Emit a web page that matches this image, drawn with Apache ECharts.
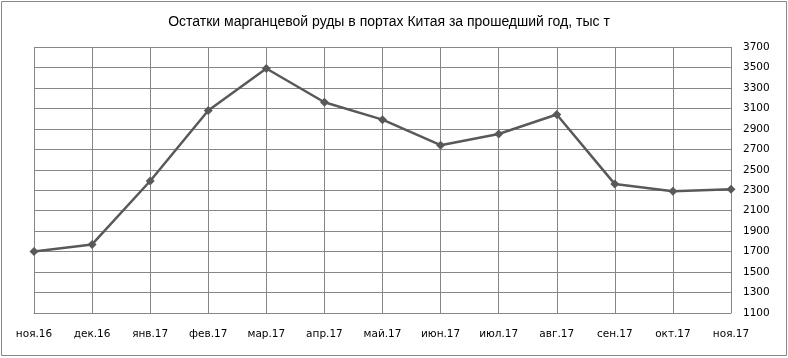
<!DOCTYPE html>
<html>
<head>
<meta charset="utf-8">
<script src="https://cdn.jsdelivr.net/npm/echarts@6/dist/echarts.min.js"></script>
<style>html,body{margin:0;padding:0;background:#fff}#c{width:788px;height:358px}</style>
</head>
<body>
<div id="c"></div>
<script>
const titleText = 'Остатки марганцевой руды в портах Китая за прошедший год, тыс т';
const categories = ['ноя.16','дек.16','янв.17','фев.17','мар.17','апр.17','май.17','июн.17','июл.17','авг.17','сен.17','окт.17','ноя.17'];
const stocks = [1700, 1770, 2390, 3080, 3490, 3160, 2990, 2740, 2850, 3040, 2360, 2290, 2310];
const yMin = 1100, yMax = 3700, yStep = 200;

const chart = echarts.init(document.getElementById('c'), null, {renderer: 'canvas'});
chart.setOption({
  animation: false,
  backgroundColor: '#fff',
  title: {
    text: titleText, left: 384, top: 10, textAlign: 'center',
    textStyle: {fontFamily: 'Liberation Sans', fontSize: 14, fontWeight: 'normal', color: '#000'}
  },
  graphic: [{
    type: 'rect', shape: {x: 1.5, y: 1.5, width: 785, height: 354},
    style: {fill: null, stroke: '#888', lineWidth: 1}, silent: true, z: -1
  }],
  grid: {left: 34, right: 57, top: 47, bottom: 45, containLabel: false},
  xAxis: {
    type: 'category', data: categories, boundaryGap: false,
    axisLine: {show: true, lineStyle: {color: '#868686', width: 1}},
    axisTick: {show: false},
    axisLabel: {margin: 16, color: '#000', fontFamily: 'DejaVu Sans', fontSize: 10.5, interval: 0},
    splitLine: {show: true, lineStyle: {color: '#868686', width: 1}}
  },
  yAxis: {
    type: 'value', position: 'right', min: yMin, max: yMax, interval: yStep,
    axisLine: {show: false}, axisTick: {show: false},
    axisLabel: {margin: 12, color: '#000', fontFamily: 'DejaVu Sans', fontSize: 10.5,
      formatter: function (v) { return String(v); }},
    splitLine: {show: true, lineStyle: {color: '#868686', width: 1}}
  },
  series: [{
    type: 'line', data: stocks,
    symbol: 'diamond', symbolSize: 9,
    lineStyle: {color: '#595959', width: 2.5},
    itemStyle: {color: '#595959'}
  }]
});
</script>
</body>
</html>
